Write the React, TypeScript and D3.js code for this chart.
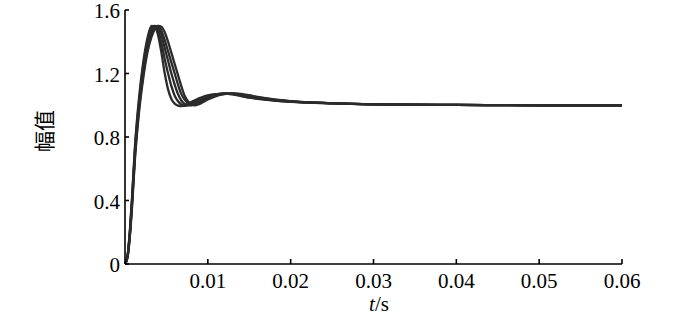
import React from "react";
import * as d3 from "d3";

const T = [0, 0.0003, 0.0006, 0.00085, 0.0012, 0.0017, 0.0022, 0.0027, 0.0032, 0.0036, 0.004, 0.0044, 0.0048, 0.0052, 0.0056, 0.006, 0.0064, 0.0068, 0.0072, 0.0076, 0.008, 0.0085, 0.009, 0.0095, 0.01, 0.011, 0.012, 0.013, 0.014, 0.015, 0.016, 0.018, 0.02, 0.025, 0.03, 0.04, 0.05, 0.06];

const curve1 = [0, 0.05, 0.22, 0.42, 0.74, 1.05, 1.27, 1.42, 1.5, 1.495, 1.44, 1.33, 1.2, 1.1, 1.04, 1.01, 0.998, 0.995, 1.0, 1.01, 1.02, 1.033, 1.045, 1.055, 1.062, 1.07, 1.073, 1.068, 1.058, 1.048, 1.04, 1.03, 1.022, 1.012, 1.006, 1.002, 1.0, 1.0];
const curve2 = [0, 0.048, 0.21, 0.405, 0.72, 1.025, 1.245, 1.4, 1.485, 1.5, 1.47, 1.39, 1.29, 1.2, 1.12, 1.06, 1.025, 1.005, 0.997, 1.0, 1.008, 1.022, 1.037, 1.049, 1.058, 1.069, 1.074, 1.07, 1.06, 1.05, 1.042, 1.031, 1.023, 1.012, 1.006, 1.002, 1.0, 1.0];
const curve3 = [0, 0.045, 0.2, 0.39, 0.7, 1.0, 1.22, 1.375, 1.465, 1.5, 1.49, 1.44, 1.36, 1.28, 1.2, 1.13, 1.07, 1.03, 1.008, 0.999, 1.0, 1.012, 1.027, 1.041, 1.052, 1.066, 1.074, 1.072, 1.063, 1.053, 1.045, 1.033, 1.024, 1.012, 1.006, 1.002, 1.0, 1.0];
const curve4 = [0, 0.042, 0.19, 0.375, 0.68, 0.98, 1.195, 1.35, 1.45, 1.49, 1.5, 1.47, 1.41, 1.34, 1.27, 1.2, 1.13, 1.07, 1.035, 1.012, 1.001, 1.002, 1.015, 1.03, 1.044, 1.062, 1.072, 1.074, 1.068, 1.058, 1.05, 1.035, 1.025, 1.013, 1.006, 1.002, 1.0, 1.0];
const curve5 = [0, 0.04, 0.18, 0.36, 0.66, 0.96, 1.17, 1.33, 1.43, 1.48, 1.5, 1.495, 1.46, 1.4, 1.33, 1.26, 1.19, 1.12, 1.06, 1.025, 1.005, 1.0, 1.008, 1.022, 1.036, 1.058, 1.07, 1.075, 1.072, 1.063, 1.053, 1.037, 1.026, 1.013, 1.006, 1.002, 1.0, 1.0];

const seriesList = [curve1, curve2, curve3, curve4, curve5];

const xTicks = [0.01, 0.02, 0.03, 0.04, 0.05, 0.06];
const xTickLabels = ["0.01", "0.02", "0.03", "0.04", "0.05", "0.06"];
const yTicks = [0, 0.4, 0.8, 1.2, 1.6];
const yTickLabels = ["0", "0.4", "0.8", "1.2", "1.6"];

export default function App() {
  const W = 700, H = 319;
  const left = 125, right = 622, top = 10, bottom = 264;
  const x = d3.scaleLinear().domain([0, 0.06]).range([left, right]);
  const y = d3.scaleLinear().domain([0, 1.6]).range([bottom, top]);
  const line = d3
    .line<number>()
    .x((_, i) => x(T[i]))
    .y((d) => y(d))
    .curve(d3.curveMonotoneX);
  const font = "'Liberation Serif', 'DejaVu Serif', serif";
  return (
    <svg width={W} height={H} style={{ position: "absolute", left: 0, top: 0, background: "#fff" }}>
      <g fill="none" stroke="#2b2b2b" strokeWidth={2.3} strokeLinejoin="round">
        {seriesList.map((s, i) => (
          <path key={i} d={line(s) || ""} />
        ))}
      </g>
      <g stroke="#000" strokeWidth={1.6} fill="none">
        <line x1={left} x2={left} y1={top} y2={bottom} />
        <line x1={left} x2={right} y1={bottom} y2={bottom} />
        {yTicks.map((t) => (
          <line key={"yt" + t} x1={left} x2={left + 4} y1={y(t)} y2={y(t)} />
        ))}
        {xTicks.map((t) => (
          <line key={"xt" + t} x1={x(t)} x2={x(t)} y1={bottom} y2={bottom - 5} />
        ))}
      </g>
      <g fill="#000">
        {yTicks.map((t, i) => (
          <text key={"yl" + t} x={left - 5} y={y(t) + 8} textAnchor="end" fontFamily={font} fontSize={21}>
            {yTickLabels[i]}
          </text>
        ))}
        {xTicks.map((t, i) => (
          <text key={"xl" + t} x={x(t)} y={288} textAnchor="middle" fontFamily={font} fontSize={21}>
            {xTickLabels[i]}
          </text>
        ))}
        <text x={379} y={311} textAnchor="middle" fontFamily={font} fontSize={21}>
          <tspan fontStyle="italic">t</tspan>/s
        </text>
      </g>
      <text
        transform={`translate(52,131) rotate(-90)`}
        textAnchor="middle"
        fontFamily="'Noto Sans CJK SC', sans-serif"
        fontSize={21}
        fill="#000"
      >
        幅值
      </text>
    </svg>
  );
}
